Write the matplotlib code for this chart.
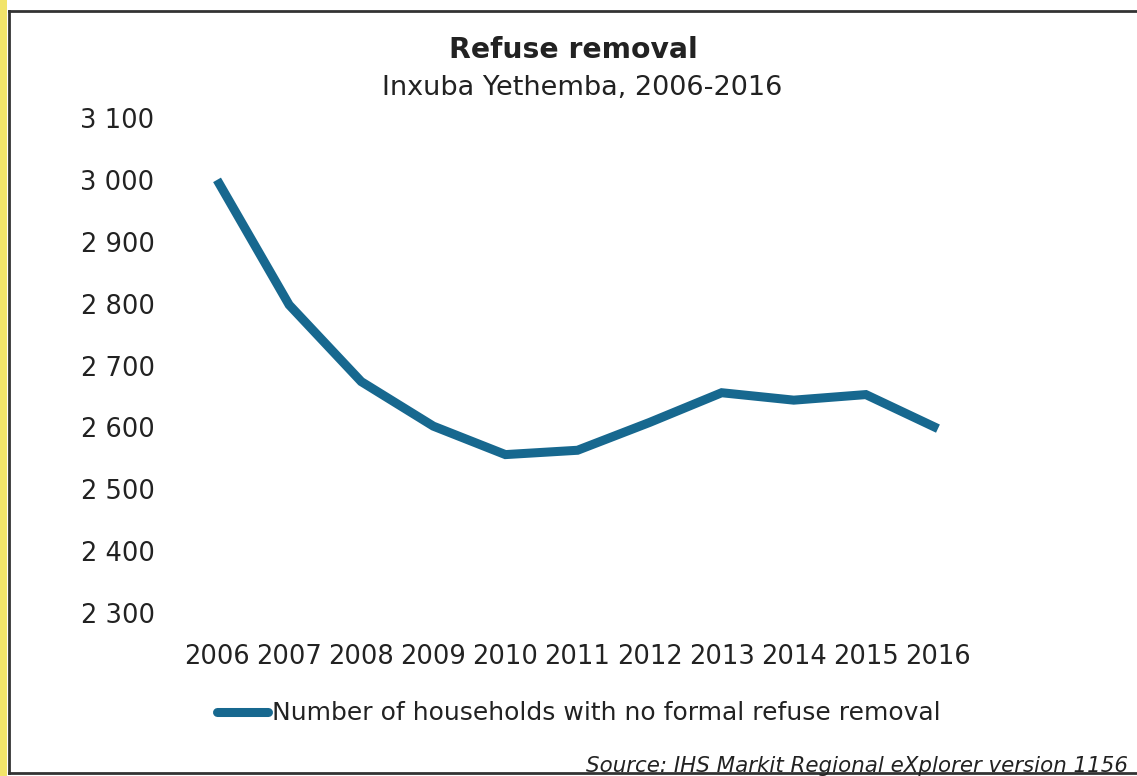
import matplotlib
matplotlib.use("Agg")
import matplotlib.pyplot as plt
from matplotlib.lines import Line2D
from matplotlib.patches import Rectangle
from matplotlib.ticker import FuncFormatter

years = [2006, 2007, 2008, 2009, 2010, 2011, 2012, 2013, 2014, 2015, 2016]
households = [3000, 2798, 2674, 2602, 2556, 2563, 2608, 2656, 2644, 2653, 2598]
y_ticks = [2300, 2400, 2500, 2600, 2700, 2800, 2900, 3000, 3100]

title = "Refuse removal"
subtitle = "Inxuba Yethemba, 2006-2016"
series_label = "Number of households with no formal refuse removal"
source = "Source: IHS Markit Regional eXplorer version 1156"

plt.rcParams['font.family'] = ['DejaVu Sans']
W, H = 1137, 776
fig = plt.figure(figsize=(W / 100, H / 100), dpi=100)

def fx(px):
    return px / W

def fy(py):
    return 1 - py / H

# yellow strip and border
fig.patches.append(Rectangle((0, 0), fx(7), 1, transform=fig.transFigure,
                             facecolor="#f2e46a", edgecolor="none"))
fig.lines.append(Line2D([fx(9), fx(9)], [fy(11), fy(773)], transform=fig.transFigure,
                        color="#333333", lw=2))
fig.lines.append(Line2D([fx(9), 1], [fy(11), fy(11)], transform=fig.transFigure,
                        color="#333333", lw=2))
fig.lines.append(Line2D([fx(9), 1], [fy(773), fy(773)], transform=fig.transFigure,
                        color="#333333", lw=2))

left, right = 181, 974
top, bottom = 118, 613
ax = fig.add_axes([fx(left), fy(bottom), fx(right - left), fy(top) - fy(bottom)])
line_color = "#17688f"
ax.plot(years, households, color=line_color, lw=6.5, solid_capstyle="butt",
        solid_joinstyle="miter")
ax.set_xlim(2005.5, 2016.5)
ax.set_ylim(2300, 3100)
ax.set_yticks(y_ticks)
ax.set_xticks(years)
ax.yaxis.set_major_formatter(FuncFormatter(lambda v, p: f"{int(v):,}".replace(",", " ")))
for s in ax.spines.values():
    s.set_visible(False)
ax.tick_params(axis="both", length=0, labelsize=18.5, colors="#222222")
ax.tick_params(axis="y", pad=19)
ax.tick_params(axis="x", pad=22)
ax.patch.set_alpha(0)

fig.text(fx(573), fy(50), title, ha="center", va="center", fontsize=20.3,
         fontweight="bold", color="#222222")
fig.text(fx(582), fy(88), subtitle, ha="center", va="center", fontsize=19.5,
         color="#222222")

# legend
fig.lines.append(Line2D([fx(217), fx(268)], [fy(712), fy(712)], transform=fig.transFigure,
                        color=line_color, lw=6.5, solid_capstyle="round"))
fig.text(fx(272), fy(713), series_label, ha="left", va="center", fontsize=18.0,
         color="#222222")

fig.text(fx(586), fy(766), source, ha="left", va="center", fontsize=15.4,
         style="italic", color="#222222")

fig.savefig("out.png", dpi=100)
